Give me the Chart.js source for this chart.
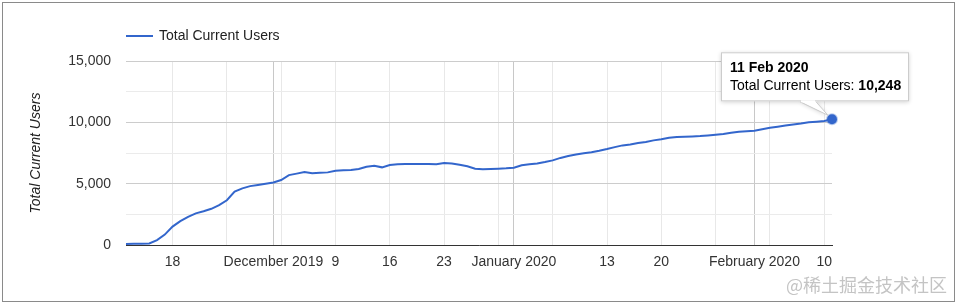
<!DOCTYPE html>
<html>
<head>
    <meta charset="utf-8">
    <title>Total Current Users</title>
    <script src="https://cdn.jsdelivr.net/npm/chart.js"></script>
    <style>
        body { margin: 0; background: #fff; }
        #wrap { position: relative; width: 959px; height: 307px; }
        #frame { position: absolute; left: 2px; top: 2px; width: 951px; height: 298px; border: 1px solid #8a8a8a; pointer-events: none; }
        #mark { position: absolute; right: 12px; top: 271px; font: 18px "Noto Sans CJK SC", sans-serif; color: #c4c4c4; }
    </style>
</head>
<body>
    <div id="wrap">
        <canvas id="usersChart" width="959" height="307"></canvas>
        <div id="frame"></div>
        <div id="mark">@稀土掘金技术社区</div>
    </div>

    <script>
        // data, one value per day from 12 Nov 2019
        const seriesName = 'Total Current Users';
        const startDay = new Date(2019, 10, 12);
        const users = [
            90, 95, 100, 120, 400, 850, 1500, 1950, 2300, 2580,
            2750, 2950, 3250, 3650, 4350, 4620, 4800, 4900, 5000, 5100,
            5300, 5700, 5820, 5950, 5850, 5880, 5920, 6060, 6100, 6110,
            6190, 6380, 6460, 6330, 6520, 6580, 6600, 6600, 6600, 6600,
            6590, 6680, 6650, 6550, 6420, 6220, 6180, 6200, 6220, 6250,
            6300, 6500, 6580, 6650, 6760, 6900, 7100, 7250, 7380, 7480,
            7560, 7680, 7820, 7980, 8120, 8200, 8320, 8400, 8530, 8620,
            8740, 8800, 8830, 8850, 8880, 8930, 8990, 9050, 9150, 9230,
            9280, 9320, 9430, 9550, 9640, 9740, 9820, 9900, 10000, 10050,
            10110, 10248
        ];
        // x ticks (days since start) and their labels
        const tickDays = [6, 13, 19, 20, 27, 34, 41, 48, 50, 55, 62, 69, 76, 81, 83, 90];
        const tickLabels = ['18', '', 'December 2019', '', '9', '16', '23', '', 'January 2020', '', '13', '20', '', 'February 2020', '', '10'];
        const monthStarts = [19, 50, 81];
        const yMax = 15000;
        const yStep = 2500;

        const days = users.map((v, i) => i);
        const months = ['Jan', 'Feb', 'Mar', 'Apr', 'May', 'Jun', 'Jul', 'Aug', 'Sep', 'Oct', 'Nov', 'Dec'];
        const last = users.length - 1;
        const fontFam = 'Arial, "Liberation Sans", sans-serif';

        function dayName(i) {
            const d = new Date(startDay.getFullYear(), startDay.getMonth(), startDay.getDate() + i);
            return d.getDate() + ' ' + months[d.getMonth()] + ' ' + d.getFullYear();
        }

        // legend, tooltip box for the last point
        const extras = {
            id: 'extras',
            afterDraw(chart) {
                const ctx = chart.ctx;
                const area = chart.chartArea;
                ctx.save();
                // legend
                ctx.strokeStyle = '#3366cc';
                ctx.lineWidth = 2;
                ctx.beginPath();
                ctx.moveTo(area.left, 36);
                ctx.lineTo(area.left + 27, 36);
                ctx.stroke();
                ctx.fillStyle = '#222';
                ctx.font = '14px ' + fontFam;
                ctx.textBaseline = 'middle';
                ctx.fillText(seriesName, area.left + 33, 36);

                // tooltip
                const pt = chart.getDatasetMeta(0).data[last];
                const bx = pt.x - 111, by = pt.y - 67, bw = 188, bh = 49;
                ctx.shadowColor = 'rgba(0,0,0,0.18)';
                ctx.shadowBlur = 4;
                ctx.shadowOffsetY = 1;
                ctx.fillStyle = '#fff';
                ctx.beginPath();
                ctx.rect(bx, by, bw, bh);
                ctx.moveTo(pt.x - 32, by + bh);
                ctx.lineTo(pt.x - 4, pt.y - 4);
                ctx.lineTo(pt.x - 16, by + bh);
                ctx.fill();
                ctx.shadowColor = 'transparent';
                ctx.strokeStyle = '#cccccc';
                ctx.lineWidth = 1;
                ctx.beginPath();
                ctx.moveTo(pt.x - 32, by + bh + 0.5);
                ctx.lineTo(pt.x - 4, pt.y - 4);
                ctx.lineTo(pt.x - 16, by + bh + 0.5);
                ctx.stroke();
                ctx.strokeRect(bx + 0.5, by + 0.5, bw - 1, bh - 1);
                ctx.fillStyle = '#fff';
                ctx.fillRect(pt.x - 31, by + bh - 1, 14, 2);

                ctx.fillStyle = '#000';
                ctx.textBaseline = 'alphabetic';
                ctx.font = 'bold 14px ' + fontFam;
                ctx.fillText(dayName(last), bx + 9, by + 20);
                ctx.font = '14px ' + fontFam;
                const lead = seriesName + ': ';
                ctx.fillText(lead, bx + 9, by + 38);
                const w = ctx.measureText(lead).width;
                ctx.font = 'bold 14px ' + fontFam;
                ctx.fillText(users[last].toLocaleString('en-US'), bx + 9 + w, by + 38);
                ctx.restore();
            }
        };

        new Chart(document.getElementById('usersChart'), {
            type: 'line',
            data: {
                labels: days,
                datasets: [{
                    label: seriesName,
                    data: days.map((d, i) => ({ x: d, y: users[i] })),
                    borderColor: '#3366cc',
                    backgroundColor: '#3366cc',
                    borderWidth: 2,
                    tension: 0,
                    clip: false,
                    pointRadius: c => c.dataIndex === last ? 5 : 0,
                    pointBorderWidth: 2,
                    pointBorderColor: 'rgba(51,102,204,0.35)',
                    pointBackgroundColor: '#3366cc'
                }]
            },
            plugins: [extras],
            options: {
                responsive: false,
                animation: false,
                events: [],
                layout: { padding: { top: 61, right: 127, left: 0, bottom: 0 } },
                plugins: {
                    legend: { display: false },
                    tooltip: { enabled: false }
                },
                scales: {
                    x: {
                        type: 'linear',
                        min: 0,
                        max: last,
                        afterBuildTicks: scale => { scale.ticks = tickDays.map(v => ({ value: v })); },
                        afterFit: scale => { scale.height = 62; },
                        grid: {
                            drawTicks: false,
                            color: c => (c.tick && monthStarts.includes(c.tick.value)) ? '#c8c8c8' : '#e8e8e8'
                        },
                        border: { color: '#333', width: 1 },
                        ticks: {
                            autoSkip: false,
                            maxRotation: 0,
                            padding: 9,
                            color: '#333',
                            font: { family: fontFam, size: 14 },
                            callback: (v, i) => tickLabels[i]
                        }
                    },
                    y: {
                        min: 0,
                        max: yMax,
                        afterFit: scale => { scale.width = 126; },
                        grid: {
                            drawTicks: false,
                            color: c => c.tick.value % 5000 === 0 ? '#cccccc' : '#ebebeb'
                        },
                        border: { display: false },
                        ticks: {
                            stepSize: yStep,
                            padding: 15,
                            color: '#333',
                            font: { family: fontFam, size: 14 },
                            callback: v => v % 5000 === 0 ? v.toLocaleString('en-US') : ''
                        },
                        title: {
                            display: true,
                            text: seriesName,
                            color: '#222',
                            padding: { top: 28, bottom: 0 },
                            font: { family: fontFam, size: 14, style: 'italic' }
                        }
                    }
                }
            }
        });
    </script>
</body>
</html>
